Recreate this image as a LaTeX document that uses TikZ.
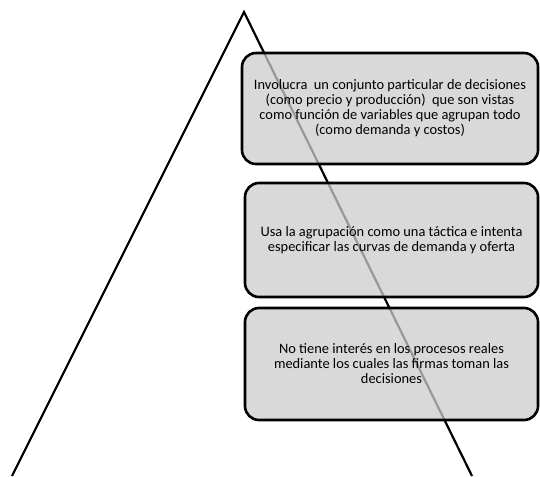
\documentclass[tikz,border=0pt]{standalone}
\usepackage{fontspec}
\setmainfont{Carlito}
\begin{document}
\begin{tikzpicture}[x=1pt,y=-1pt,
  caja/.style={draw=black, line width=2.6pt, rounded corners=14pt, fill=black!20, fill opacity=0.75, text opacity=1, align=center, font=\fontsize{14.4}{15}\selectfont, inner sep=0pt},
  lado/.style={line width=2.2pt}]
\useasboundingbox (0,0) rectangle (540,476);
% triangulo
\coordinate (cima) at (244,12);
\coordinate (izq) at (12,476);
\coordinate (der) at (472,476);
\draw[lado] (izq) -- (cima) -- (der);
% cajas
\node[caja, minimum width=296pt, minimum height=111pt] (c1) at (390,108.5) {Involucra \ un conjunto particular de decisiones\\(como precio y producción) \ que son vistas\\como función de variables que agrupan todo\\(como demanda y costos)};
\node[caja, minimum width=293pt, minimum height=114pt] (c2) at (391.5,240) {Usa la agrupación como una táctica e intenta\\especificar las curvas de demanda y oferta};
\node[caja, minimum width=293pt, minimum height=112pt] (c3) at (391.5,364) {No tiene interés en los procesos reales\\mediante los cuales las firmas toman las\\decisiones};
\end{tikzpicture}
\end{document}
